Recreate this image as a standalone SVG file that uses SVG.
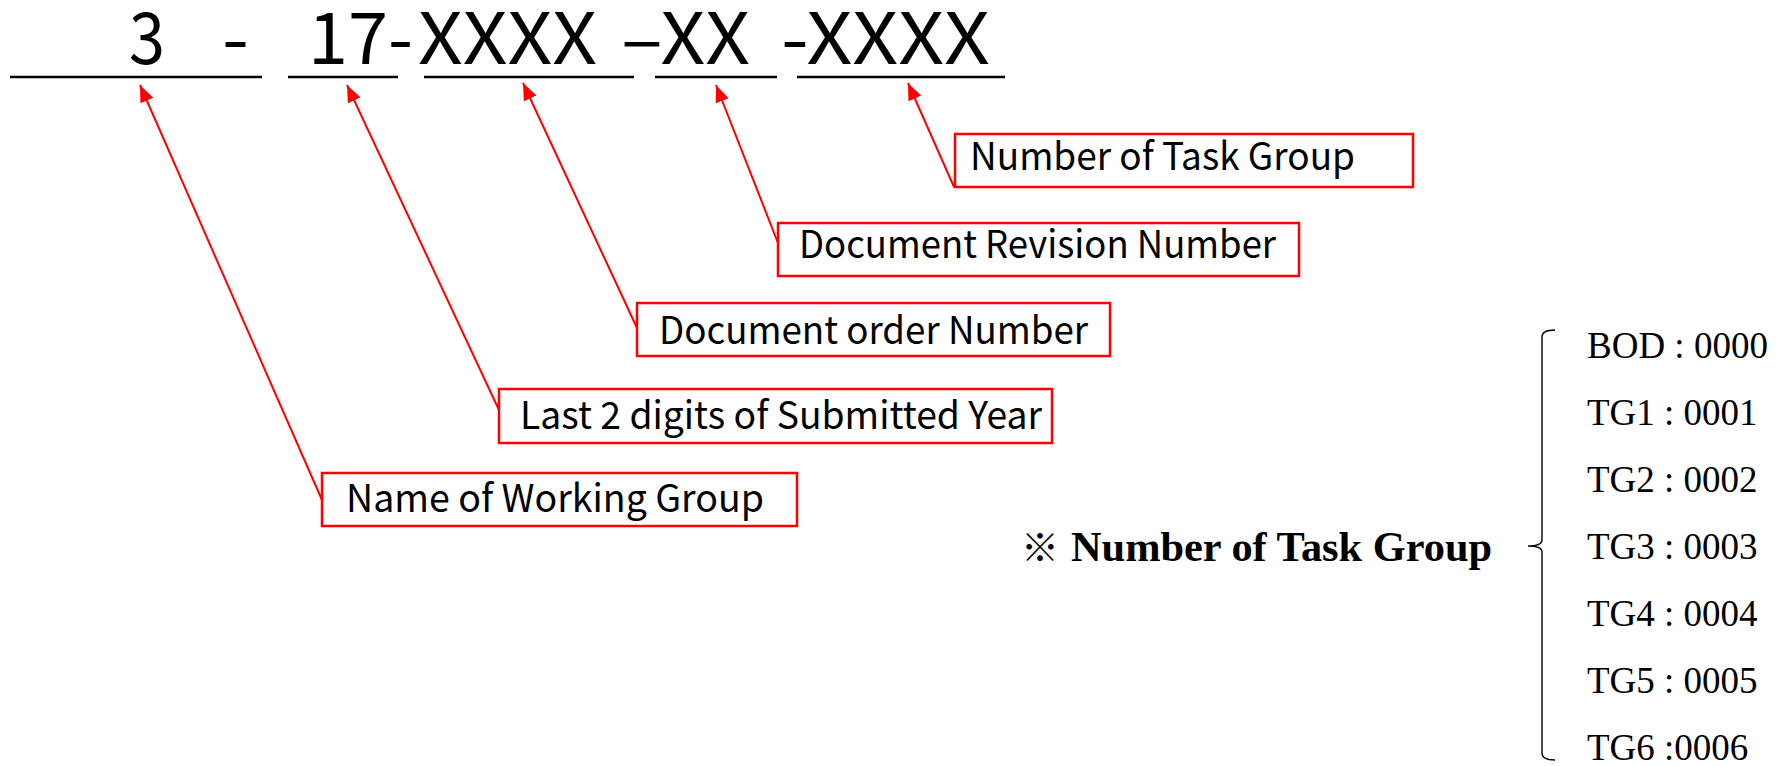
<svg xmlns="http://www.w3.org/2000/svg" width="1789" height="766" viewBox="0 0 1789 766">
<defs>
<style>
.big{font-family:"Noto Sans CJK KR","Liberation Sans",sans-serif;font-size:71px;fill:#000}
.ul{stroke:#000;stroke-width:2.4}
.box{fill:#fff;stroke:#ff0000;stroke-width:2.5}
.lbl{font-family:"Noto Sans CJK KR","Liberation Sans",sans-serif;font-size:38px;fill:#000}
.conn{stroke:#ff0000;stroke-width:2;fill:none}
.tg{font-family:"Liberation Serif","Times New Roman",serif;font-size:37px;fill:#000}
.note{font-family:"Liberation Serif","Times New Roman",serif;font-size:42px;font-weight:bold;fill:#000}
</style>
<marker id="ah" markerUnits="userSpaceOnUse" viewBox="0 0 17 14" refX="17" refY="7" markerWidth="17" markerHeight="14" orient="auto">
<path d="M0,0 L17,7 L0,14 z" fill="#ff0000"/>
</marker>
</defs>
<rect width="1789" height="766" fill="#fff"/>
<g id="code">
<text class="big" x="129" y="64" textLength="36" lengthAdjust="spacingAndGlyphs">3</text>
<text class="big" x="222" y="64" textLength="27" lengthAdjust="spacingAndGlyphs">-</text>
<text class="big" x="308" y="64" textLength="105" lengthAdjust="spacingAndGlyphs">17-</text>
<text class="big" x="418" y="64" textLength="179" lengthAdjust="spacingAndGlyphs">XXXX</text>
<text class="big" x="621" y="64" textLength="129" lengthAdjust="spacingAndGlyphs">–XX</text>
<text class="big" x="781" y="64" textLength="209" lengthAdjust="spacingAndGlyphs">-XXXX</text>
<line class="ul" x1="10" y1="77" x2="262" y2="77"/>
<line class="ul" x1="288" y1="77" x2="398" y2="77"/>
<line class="ul" x1="424" y1="77" x2="634" y2="77"/>
<line class="ul" x1="655" y1="77" x2="777" y2="77"/>
<line class="ul" x1="797" y1="77" x2="1005" y2="77"/>
</g>
<g id="connectors">
<line class="conn" x1="322" y1="500" x2="140" y2="85" marker-end="url(#ah)"/>
<line class="conn" x1="499" y1="410" x2="347" y2="85" marker-end="url(#ah)"/>
<line class="conn" x1="637" y1="328" x2="523" y2="83" marker-end="url(#ah)"/>
<line class="conn" x1="778" y1="243" x2="716" y2="85" marker-end="url(#ah)"/>
<line class="conn" x1="954" y1="187" x2="908" y2="83" marker-end="url(#ah)"/>
</g>
<g id="n-task-group">
<rect class="box" x="955" y="134" width="458" height="53"/>
<text class="lbl" x="970" y="170" textLength="385" lengthAdjust="spacingAndGlyphs">Number of Task Group</text>
</g>
<g id="n-revision">
<rect class="box" x="778" y="223" width="521" height="53"/>
<text class="lbl" x="799" y="258" textLength="477" lengthAdjust="spacingAndGlyphs">Document Revision Number</text>
</g>
<g id="n-order">
<rect class="box" x="637" y="303" width="473" height="53"/>
<text class="lbl" x="659" y="344" textLength="429" lengthAdjust="spacingAndGlyphs">Document order Number</text>
</g>
<g id="n-year">
<rect class="box" x="499" y="389" width="553" height="54"/>
<text class="lbl" x="520" y="429" textLength="522" lengthAdjust="spacingAndGlyphs">Last 2 digits of Submitted Year</text>
</g>
<g id="n-working-group">
<rect class="box" x="322" y="473" width="475" height="53"/>
<text class="lbl" x="346" y="512" textLength="418" lengthAdjust="spacingAndGlyphs">Name of Working Group</text>
</g>
<g id="note">
<text class="note" x="1021" y="561"><tspan font-family="'Noto Sans CJK KR',sans-serif" font-weight="normal" font-size="38">※</tspan></text>
<text class="note" x="1071" y="561" textLength="421" lengthAdjust="spacingAndGlyphs">Number of Task Group</text>
<path d="M1555,330 Q1542,330 1542,337 L1542,540 Q1542,546 1528,546 Q1542,546 1542,552 L1542,753 Q1542,760 1555,760" fill="none" stroke="#000" stroke-width="1.4"/>
<text class="tg" x="1587" y="358">BOD : 0000</text>
<text class="tg" x="1587" y="425">TG1 : 0001</text>
<text class="tg" x="1587" y="492">TG2 : 0002</text>
<text class="tg" x="1587" y="559">TG3 : 0003</text>
<text class="tg" x="1587" y="626">TG4 : 0004</text>
<text class="tg" x="1587" y="693">TG5 : 0005</text>
<text class="tg" x="1587" y="760">TG6 :0006</text>
</g>
</svg>
